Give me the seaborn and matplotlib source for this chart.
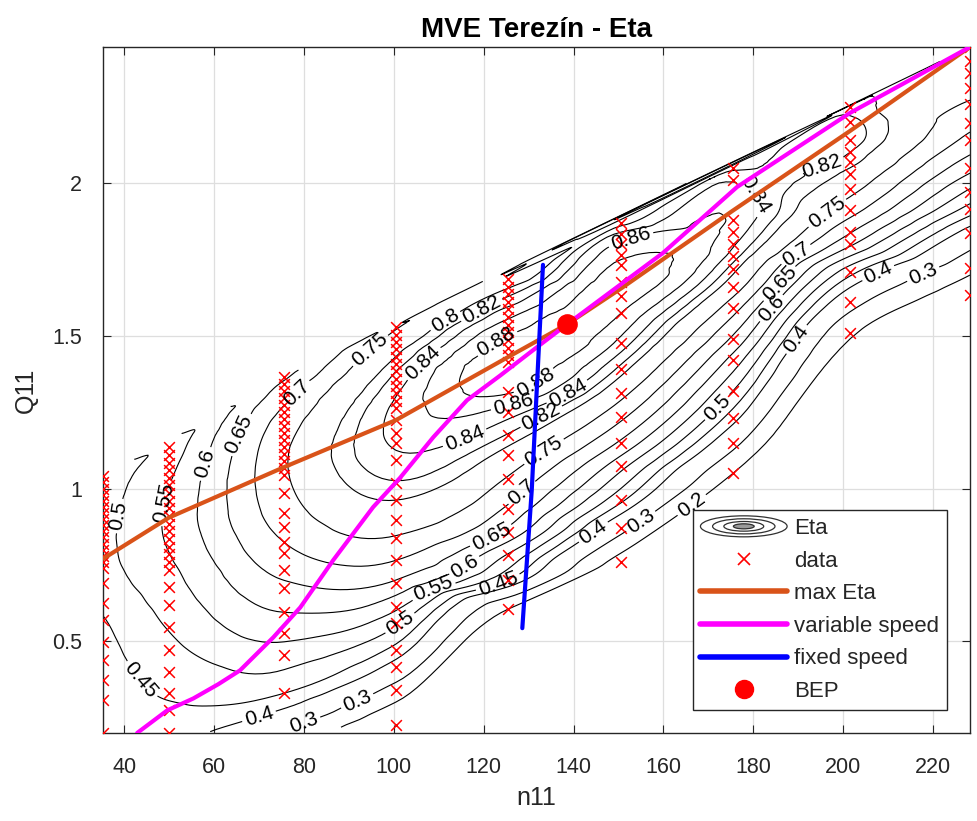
import numpy as np
import matplotlib
matplotlib.use("Agg")
import matplotlib.pyplot as plt
import matplotlib.tri as mtri
from matplotlib.patches import Ellipse
from matplotlib.legend_handler import HandlerBase
from matplotlib.lines import Line2D
from matplotlib.ticker import FuncFormatter
import pandas as pd
import seaborn as sns

# ---------------- measured hill-chart points ----------------
# each test series is run at a constant unit speed n11
n11_s1 = 35.3
q11_s1 = [1.04, 1.02, 1.00, 0.98, 0.96, 0.94, 0.92, 0.90, 0.88, 0.86, 0.84, 0.82,
          0.80, 0.78, 0.76, 0.74, 0.69, 0.624, 0.569, 0.497, 0.438, 0.372, 0.307, 0.20]
eta_s1 = [0.470, 0.472, 0.474, 0.476, 0.478, 0.480, 0.482, 0.483, 0.484, 0.485, 0.486, 0.486,
          0.486, 0.486, 0.485, 0.483, 0.476, 0.460, 0.447, 0.437, 0.432, 0.428, 0.424, 0.416]

n11_s2 = 50.0
q11_s2 = [1.135, 1.11, 1.085, 1.06, 1.035, 1.01, 0.985, 0.96, 0.935, 0.91, 0.885, 0.86,
          0.835, 0.81, 0.785, 0.76, 0.735, 0.677, 0.618, 0.546, 0.47, 0.40, 0.33, 0.274, 0.20]
eta_s2 = [0.520, 0.527, 0.534, 0.540, 0.545, 0.550, 0.553, 0.556, 0.558, 0.559, 0.559, 0.558,
          0.556, 0.553, 0.549, 0.545, 0.540, 0.530, 0.518, 0.503, 0.487, 0.470, 0.455, 0.443, 0.420]

n11_s3 = 75.6
q11_s3 = [1.365, 1.342, 1.319, 1.296, 1.273, 1.25, 1.227, 1.204, 1.181, 1.158, 1.135, 1.112,
          1.089, 1.066, 1.043, 0.985, 0.92, 0.873, 0.824, 0.788, 0.733, 0.674, 0.595, 0.526,
          0.454, 0.33]
eta_s3 = [0.640, 0.660, 0.675, 0.690, 0.700, 0.710, 0.720, 0.727, 0.733, 0.738, 0.742, 0.744,
          0.745, 0.745, 0.744, 0.738, 0.727, 0.715, 0.700, 0.688, 0.665, 0.638, 0.600, 0.565,
          0.525, 0.450]

n11_s4 = 100.5
q11_s4 = [1.528, 1.504, 1.480, 1.456, 1.432, 1.408, 1.384, 1.360, 1.336, 1.312, 1.288, 1.264,
          1.224, 1.181, 1.149, 1.093, 1.018, 0.962, 0.896, 0.837, 0.765, 0.690, 0.611, 0.559,
          0.470, 0.415, 0.340, 0.225]
eta_s4 = [0.745, 0.760, 0.775, 0.790, 0.800, 0.810, 0.820, 0.827, 0.833, 0.838, 0.842, 0.845,
          0.847, 0.846, 0.843, 0.835, 0.818, 0.800, 0.775, 0.745, 0.700, 0.640, 0.560, 0.510,
          0.430, 0.370, 0.260, 0.080]

n11_s5 = 125.4
q11_s5 = [1.686, 1.661, 1.636, 1.611, 1.586, 1.561, 1.536, 1.511, 1.486, 1.461, 1.436, 1.414,
          1.316, 1.250, 1.175, 1.109, 1.031, 0.932, 0.857, 0.782, 0.700, 0.605]
eta_s5 = [0.770, 0.795, 0.815, 0.830, 0.845, 0.857, 0.868, 0.877, 0.884, 0.889, 0.892, 0.893,
          0.882, 0.850, 0.818, 0.785, 0.745, 0.690, 0.635, 0.545, 0.450, 0.200]

n11_s6 = 150.6
q11_s6 = [1.869, 1.833, 1.800, 1.764, 1.732, 1.676, 1.630, 1.574, 1.476, 1.391, 1.312, 1.234,
          1.149, 1.073, 0.962, 0.870, 0.759]
eta_s6 = [0.812, 0.845, 0.864, 0.876, 0.884, 0.892, 0.890, 0.880, 0.852, 0.812, 0.765, 0.710,
          0.640, 0.565, 0.460, 0.330, 0.150]

n11_s7 = 175.5
q11_s7 = [2.05, 2.01, 1.88, 1.84, 1.80, 1.76, 1.72, 1.66, 1.59, 1.49, 1.42, 1.32, 1.23, 1.15, 1.05]
eta_s7 = [0.815, 0.838, 0.857, 0.852, 0.843, 0.830, 0.810, 0.775, 0.720, 0.640, 0.580, 0.500,
          0.420, 0.330, 0.200]

n11_s8 = 201.5
q11_s8 = [2.25, 2.20, 2.14, 2.10, 2.07, 2.03, 1.98, 1.91, 1.84, 1.80, 1.71, 1.61, 1.51]
eta_s8 = [0.810, 0.826, 0.830, 0.820, 0.810, 0.790, 0.765, 0.720, 0.655, 0.610, 0.470, 0.340, 0.220]

n11_s9 = 228.2
q11_s9 = [2.445, 2.40, 2.36, 2.311, 2.259, 2.197, 2.141, 2.049, 1.971, 1.915, 1.836, 1.722, 1.633]
eta_s9 = [0.797, 0.790, 0.780, 0.765, 0.745, 0.715, 0.685, 0.615, 0.540, 0.480, 0.370, 0.230, 0.120]

# ---------------- derived operating curves ----------------
max_eta_n11 = [35.3, 50.0, 75.6, 100.5, 125.4, 138.6, 150.6, 175.5, 201.5, 228.2]
max_eta_q11 = [0.77, 0.905, 1.07, 1.224, 1.43, 1.538, 1.655, 1.91, 2.17, 2.445]

var_speed_n11 = [42.9, 49.6, 55.4, 61.0, 65.8, 73.2, 79.2, 86.5, 95.4, 101.4, 108.8, 116.3,
                 123.7, 131.9, 138.6, 159.9, 176.4, 201.5, 228.2]
var_speed_q11 = [0.200, 0.274, 0.313, 0.360, 0.405, 0.513, 0.611, 0.765, 0.939, 1.035, 1.168,
                 1.289, 1.370, 1.463, 1.538, 1.771, 1.987, 2.229, 2.445]

fix_speed_n11 = [128.6, 130.7, 133.2]
fix_speed_q11 = [0.543, 0.995, 1.732]

bep_n11 = [138.6]
bep_q11 = [1.538]

eta_levels = [0.2, 0.3, 0.4, 0.45, 0.5, 0.55, 0.6, 0.65, 0.7, 0.75, 0.8, 0.82, 0.84, 0.86, 0.88]

# where the level labels sit along the contours (n11, Q11)
label_spots = [
    (42.0, 0.906), (49.6, 0.95), (57.6, 1.083), (67.4, 1.168), (79.2, 1.30), (94.7, 1.453),
    (111.9, 1.541), (119.2, 1.594), (105.9, 1.42), (123.0, 1.476), (152.6, 1.823),
    (178.6, 1.944), (194.9, 2.075), (195.5, 1.92), (189.8, 1.758), (186.6, 1.66),
    (183.7, 1.594), (172.0, 1.266), (189.8, 1.486), (208.2, 1.692), (217.1, 1.725),
    (130.3, 1.378), (126.6, 1.28), (115.4, 1.18), (139.2, 1.30), (133.2, 1.224),
    (133.2, 1.126), (128.0, 0.995), (121.0, 0.864), (114.8, 0.765), (108.8, 0.667),
    (102.0, 0.546), (123.0, 0.70), (145.2, 0.84), (154.8, 0.896), (166.0, 0.952),
    (43.6, 0.372), (69.6, 0.274), (79.2, 0.264), (91.8, 0.307),
]

# ---------------- assemble the measurement table ----------------
series = [
    (n11_s1, q11_s1, eta_s1), (n11_s2, q11_s2, eta_s2), (n11_s3, q11_s3, eta_s3),
    (n11_s4, q11_s4, eta_s4), (n11_s5, q11_s5, eta_s5), (n11_s6, q11_s6, eta_s6),
    (n11_s7, q11_s7, eta_s7), (n11_s8, q11_s8, eta_s8), (n11_s9, q11_s9, eta_s9),
]
meas = pd.DataFrame({
    "n11": np.concatenate([[n] * len(q) for n, q, _ in series]),
    "Q11": np.concatenate([q for _, q, _ in series]),
    "eta": np.concatenate([e for _, _, e in series]),
})

# ---------------- style ----------------
sns.set_theme(style="whitegrid")
plt.rcParams["font.family"] = ["Liberation Sans", "DejaVu Sans"]
plt.rcParams["axes.edgecolor"] = "#262626"
plt.rcParams["grid.color"] = "#dedede"

fig = plt.figure(figsize=(9.77, 8.21), dpi=100)
ax = fig.add_axes([0.1054, 0.1072, 0.8874, 0.8356])
ax.set_facecolor("white")

# ---------------- efficiency surface: cubic interpolation on the measured points ----------------
# triangulate in a balanced (n11/100, Q11) space so the cells are not needle-thin
xs = meas["n11"].to_numpy() / 100.0
ys = meas["Q11"].to_numpy()
zs = meas["eta"].to_numpy()
tri = mtri.Triangulation(xs, ys)
interp = mtri.CubicTriInterpolator(tri, zs, kind="geom")
tri_fine, eta_fine = mtri.UniformTriRefiner(tri).refine_field(zs, triinterpolator=interp,
                                                              subdiv=4)
tri_plot = mtri.Triangulation(tri_fine.x * 100.0, tri_fine.y, tri_fine.triangles)

cs = ax.tricontour(tri_plot, eta_fine, levels=eta_levels, colors="black", linewidths=0.8,
                   zorder=2)
ax.clabel(cs, fmt="%g", fontsize=15, inline=True, inline_spacing=3, manual=label_spots)

# ---------------- measured points and operating curves ----------------
sns.scatterplot(data=meas, x="n11", y="Q11", marker="x", color="red", s=60,
                linewidth=1.1, ax=ax, zorder=3, legend=False)
sns.lineplot(x=max_eta_n11, y=max_eta_q11, sort=False, color="#D95319", linewidth=3.0,
             ax=ax, zorder=4, legend=False)
sns.lineplot(x=var_speed_n11, y=var_speed_q11, sort=False, color="#FF00FF", linewidth=3.0,
             ax=ax, zorder=5, legend=False)
sns.lineplot(x=fix_speed_n11, y=fix_speed_q11, sort=False, color="#0000FF", linewidth=3.0,
             ax=ax, zorder=6, legend=False)
sns.scatterplot(x=bep_n11, y=bep_q11, color="red", s=190, edgecolor="red",
                ax=ax, zorder=7, legend=False)

# ---------------- axes ----------------
ax.set_xlim(meas["n11"].min(), meas["n11"].max())
ax.set_ylim(meas["Q11"].min(), meas["Q11"].max())
ax.set_xticks(np.arange(40, 221, 20))
ax.set_yticks([0.5, 1.0, 1.5, 2.0])
ax.yaxis.set_major_formatter(FuncFormatter(lambda v, p: f"{v:g}"))
ax.tick_params(direction="in", length=6, width=0.8, colors="#262626", labelsize=15.5,
               top=True, right=True, bottom=True, left=True)
ax.tick_params(axis="x", pad=17)
ax.tick_params(axis="y", pad=15)
ax.grid(True, color="#dedede", linewidth=0.9)
for sp in ax.spines.values():
    sp.set_color("#262626")
    sp.set_linewidth(1.0)
ax.set_xlabel("n11", fontsize=18, color="#262626", labelpad=6)
ax.set_ylabel("Q11", fontsize=18, color="#262626", labelpad=10)
ax.set_title("MVE Terezín - Eta", fontsize=20, fontweight="bold", color="black", pad=7)


# ---------------- legend ----------------
class ContourIcon(HandlerBase):
    def create_artists(self, legend, orig_handle, xdescent, ydescent, width, height,
                       fontsize, trans):
        cx = width / 2 - xdescent
        cy = height / 2 - ydescent
        arts = [Ellipse((cx, cy), width * 0.24, height * 0.35, facecolor="#9a9a9a",
                        edgecolor="none", transform=trans)]
        for f in (1.0, 0.72, 0.46, 0.24):
            arts.append(Ellipse((cx, cy), width * f, height * 1.35 * f, fill=False,
                                edgecolor="#303030", linewidth=0.9, transform=trans))
        return arts


eta_proxy = Line2D([], [], color="black")
handles = [
    eta_proxy,
    Line2D([], [], ls="none", marker="x", color="red", markersize=9, markeredgewidth=1.2),
    Line2D([], [], color="#D95319", linewidth=4),
    Line2D([], [], color="#FF00FF", linewidth=4),
    Line2D([], [], color="#0000FF", linewidth=4),
    Line2D([], [], ls="none", marker="o", color="red", markersize=13),
]
labels = ["Eta", "data", "max Eta", "variable speed", "fixed speed", "BEP"]
leg = ax.legend(handles, labels, handler_map={eta_proxy: ContourIcon()},
                loc="lower right", bbox_to_anchor=(0.973, 0.034), fontsize=16,
                handlelength=3.9, handletextpad=0.3, labelspacing=0.52,
                borderpad=0.35, borderaxespad=0.0, frameon=True, fancybox=False,
                framealpha=1.0, edgecolor="#262626")
leg.get_frame().set_linewidth(1.0)
leg.set_zorder(10)

fig.savefig("out.png", dpi=100)
